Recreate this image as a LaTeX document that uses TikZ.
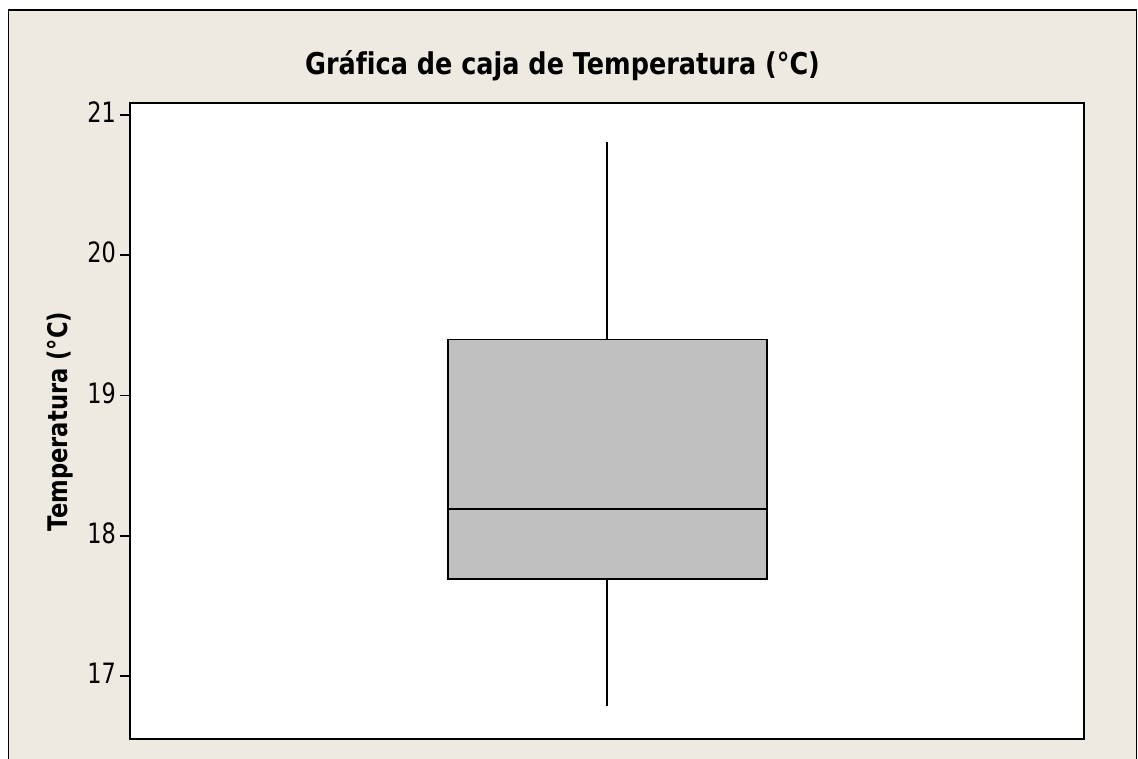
\documentclass[tikz,border=0pt]{standalone}
\usepackage{fontspec}
\setmainfont{DejaVu Sans}
\newfontfamily\titlefont[FakeStretch=0.85,Ligatures=NoCommon]{DejaVu Sans}
\newfontfamily\labelfont[FakeStretch=0.84]{DejaVu Sans}
\newfontfamily\tickfont[FakeStretch=0.8]{DejaVu Sans}
\definecolor{bgbeige}{RGB}{238,234,225}
\definecolor{boxgray}{RGB}{192,192,192}
\tikzset{
  frameline/.style={draw=black, line width=1.8pt},
  boxstyle/.style={draw=black, fill=boxgray, line width=1.8pt},
  whisker/.style={draw=black, line width=1.8pt},
  tickmark/.style={draw=black, line width=1.5pt},
  ticklabel/.style={anchor=base east, inner sep=0pt, font=\tickfont\fontsize{28}{32}\selectfont},
}
\begin{document}
\begin{tikzpicture}[x=1pt,y=-1pt]
\useasboundingbox (0,0) rectangle (1138,759);
\fill[white] (0,0) rectangle (1138,759);
% outer panel
\fill[bgbeige] (8.5,10) rectangle (1136.5,759);
\draw[frameline] (8.5,759) -- (8.5,10) -- (1136.5,10) -- (1136.5,759);
% plot area
\coordinate (pa-nw) at (130,103);
\coordinate (pa-se) at (1084,739);
\draw[frameline, fill=white] (pa-nw) rectangle (pa-se);
% title
\node[anchor=base, inner sep=0pt, font=\titlefont\bfseries\fontsize{30}{36}\selectfont] (title) at (562.5,75) {Gráfica de caja de Temperatura (°C)};
% y label
\node[anchor=base, rotate=90, inner sep=0pt, font=\labelfont\bfseries\fontsize{27}{32}\selectfont] (ylabel) at (67,421.5) {Temperatura (°C)};
% ticks
\foreach \v/\y in {21/115,20/255.25,19/395.5,18/535.75,17/676}{
  \draw[tickmark] (120,\y) -- (130,\y);
  \node[ticklabel] (tick\v) at (116,\y+7.5) {\v};
}
% box plot
\coordinate (wtop) at (607.3,142.5);
\coordinate (q3) at (607.3,339.5);
\coordinate (q1) at (607.3,579.3);
\coordinate (wbot) at (607.3,705.5);
\draw[whisker] (wtop) -- (q3);
\draw[whisker] (q1) -- (wbot);
\draw[boxstyle] (448.3,339.5) rectangle (766.7,579.3);
\coordinate (medL) at (448.3,509);
\coordinate (medR) at (766.7,509);
\draw[whisker] (medL) -- (medR);
\end{tikzpicture}
\end{document}
